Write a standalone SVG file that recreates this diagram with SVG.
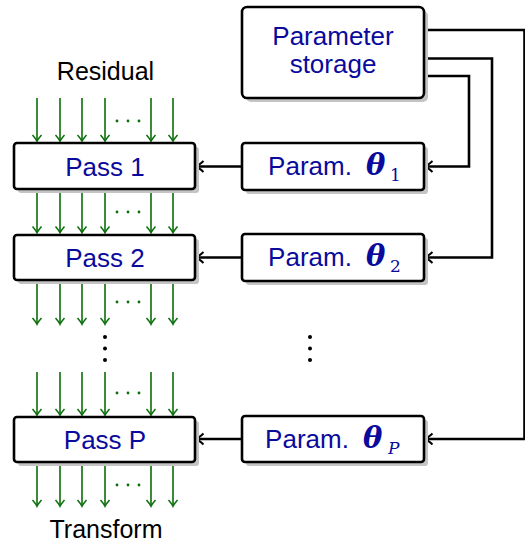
<svg xmlns="http://www.w3.org/2000/svg" width="525" height="544" viewBox="0 0 525 544">
<style>
.box{fill:#fff;stroke:#000;stroke-width:2.6}
.sh{fill:#c4c4c4}
.lbl{font-family:"Liberation Sans",Arial,sans-serif;font-size:26px;fill:#0a0a9c;text-anchor:middle}
.th{font-family:"DejaVu Serif","Liberation Serif",serif;font-weight:bold;font-style:italic;font-size:29px;fill:#0a0a9c}
.sub{font-family:"DejaVu Serif","Liberation Serif",serif;font-size:17px;fill:#0a0a9c}
.plain{font-family:"Liberation Sans",Arial,sans-serif;font-size:25px;fill:#000;text-anchor:middle}
.conn{fill:none;stroke:#000;stroke-width:2.6}
.g{fill:none;stroke:#0a6e0a;stroke-width:1.6}
.gd{fill:#0a6e0a}
.bd{fill:#000}
</style>
<defs>
<marker id="ab" markerUnits="userSpaceOnUse" markerWidth="14" markerHeight="14" viewBox="-8 -7 10 14" refX="0" refY="0" orient="auto">
<path d="M-7,-5.5 Q-2,-1 0.5,0 Q-2,1 -7,5.5" fill="none" stroke="#000" stroke-width="2"/>
</marker>
<marker id="ag" markerUnits="userSpaceOnUse" markerWidth="12" markerHeight="12" viewBox="-7 -6 9 12" refX="0" refY="0" orient="auto">
<path d="M-6,-4.5 Q-2,-1 0.3,0 Q-2,1 -6,4.5" fill="none" stroke="#0a6e0a" stroke-width="1.5"/>
</marker>
<g id="col">
<line x1="37" y1="0" x2="37" y2="43" class="g" marker-end="url(#ag)"/>
<line x1="60" y1="0" x2="60" y2="43" class="g" marker-end="url(#ag)"/>
<line x1="82" y1="0" x2="82" y2="43" class="g" marker-end="url(#ag)"/>
<line x1="105" y1="0" x2="105" y2="43" class="g" marker-end="url(#ag)"/>
<line x1="151" y1="0" x2="151" y2="43" class="g" marker-end="url(#ag)"/>
<line x1="173" y1="0" x2="173" y2="43" class="g" marker-end="url(#ag)"/>
</g>
</defs>

<g id="connectors">
<line x1="242" y1="166.5" x2="196.5" y2="166.5" class="conn" marker-end="url(#ab)"/>
<line x1="242" y1="257.5" x2="196.5" y2="257.5" class="conn" marker-end="url(#ab)"/>
<line x1="242" y1="439" x2="196.5" y2="439" class="conn" marker-end="url(#ab)"/>
<polyline points="424,76 469,76 469,166.5 425.5,166.5" class="conn" marker-end="url(#ab)"/>
<polyline points="424,58.5 492,58.5 492,257.5 425.5,257.5" class="conn" marker-end="url(#ab)"/>
<polyline points="424,30 524.5,30 524.5,439 425.5,439" class="conn" marker-end="url(#ab)"/>
</g>

<g id="flows">
<use href="#col" x="0" y="98"/>
<use href="#col" x="0" y="189.5"/>
<use href="#col" x="0" y="281"/>
<use href="#col" x="0" y="372"/>
<use href="#col" x="0" y="463"/>
<g class="gd">
<circle cx="117" cy="121" r="1.4"/><circle cx="128" cy="121" r="1.4"/><circle cx="139" cy="121" r="1.4"/>
<circle cx="117" cy="212" r="1.4"/><circle cx="128" cy="212" r="1.4"/><circle cx="139" cy="212" r="1.4"/>
<circle cx="117" cy="302" r="1.4"/><circle cx="128" cy="302" r="1.4"/><circle cx="139" cy="302" r="1.4"/>
<circle cx="117" cy="393" r="1.4"/><circle cx="128" cy="393" r="1.4"/><circle cx="139" cy="393" r="1.4"/>
<circle cx="117" cy="485" r="1.4"/><circle cx="128" cy="485" r="1.4"/><circle cx="139" cy="485" r="1.4"/>
</g>
<g class="bd">
<circle cx="105" cy="337" r="2"/><circle cx="105" cy="348.5" r="2"/><circle cx="105" cy="360" r="2"/>
<circle cx="310" cy="337" r="2"/><circle cx="310" cy="348.5" r="2"/><circle cx="310" cy="360" r="2"/>
</g>
<text x="105.5" y="80" class="plain">Residual</text>
<text x="106" y="538" class="plain">Transform</text>
</g>

<g id="storage">
<rect x="246" y="11" width="182" height="91" rx="5" class="sh"/>
<rect x="242" y="7" width="182" height="91" rx="5" class="box"/>
<text x="333" y="45" class="lbl">Parameter</text>
<text x="333" y="73" class="lbl">storage</text>
</g>

<g id="pass1">
<rect x="18" y="147" width="181" height="46" rx="3" class="sh"/>
<rect x="14" y="143" width="181" height="46" rx="3" class="box"/>
<text x="105" y="176" class="lbl">Pass 1</text>
</g>
<g id="pass2">
<rect x="18" y="239" width="181" height="45" rx="3" class="sh"/>
<rect x="14" y="235" width="181" height="45" rx="3" class="box"/>
<text x="105" y="267" class="lbl">Pass 2</text>
</g>
<g id="passP">
<rect x="18" y="421" width="181" height="45" rx="3" class="sh"/>
<rect x="14" y="417" width="181" height="45" rx="3" class="box"/>
<text x="105" y="449" class="lbl">Pass P</text>
</g>

<g id="param1">
<rect x="246" y="147" width="182" height="47" rx="3" class="sh"/>
<rect x="242" y="143" width="182" height="47" rx="3" class="box"/>
<text x="310" y="175" class="lbl">Param.</text>
<text x="366" y="175" class="th">θ</text>
<text x="390" y="181" class="sub">1</text>
</g>
<g id="param2">
<rect x="246" y="238" width="182" height="47" rx="3" class="sh"/>
<rect x="242" y="234" width="182" height="47" rx="3" class="box"/>
<text x="310" y="266" class="lbl">Param.</text>
<text x="366" y="266" class="th">θ</text>
<text x="390" y="272" class="sub">2</text>
</g>
<g id="paramP">
<rect x="246" y="420" width="182" height="46" rx="3" class="sh"/>
<rect x="242" y="416" width="182" height="46" rx="3" class="box"/>
<text x="307" y="448" class="lbl">Param.</text>
<text x="363" y="448" class="th">θ</text>
<text x="388" y="454" class="sub" font-style="italic">P</text>
</g>
</svg>
